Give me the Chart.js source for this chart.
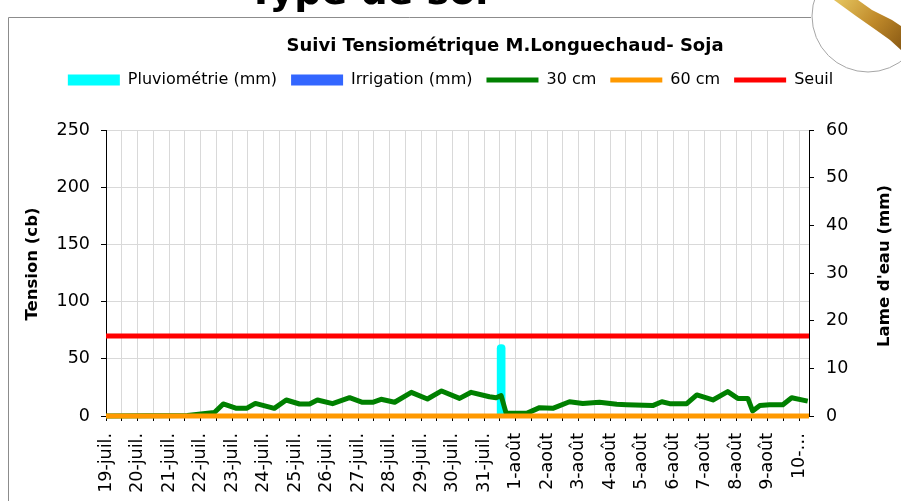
<!DOCTYPE html>
<html>
<head>
<meta charset="utf-8">
<script src="https://cdn.jsdelivr.net/npm/chart.js@4.4.1/dist/chart.umd.min.js"></script>
<style>
    html, body { margin: 0; padding: 0; background: #fff; }
    #wrap { width: 901px; height: 501px; position: relative; }
</style>
</head>
<body>
<div id="wrap"><canvas id="chart"></canvas></div>
<script>
// jours (index 0 = 19-juil.), une étiquette par jour
const dayLabels = ['19-juil.', '20-juil.', '21-juil.', '22-juil.', '23-juil.', '24-juil.', '25-juil.',
    '26-juil.', '27-juil.', '28-juil.', '29-juil.', '30-juil.', '31-juil.', '1-août', '2-août',
    '3-août', '4-août', '5-août', '6-août', '7-août', '8-août', '9-août', '10-…'];
const xMax = 22.31;

// sonde 30 cm (position en jours depuis le 19-juil., tension en cb)
const tension30Days = [0, 2.58, 3.44, 3.72, 4.14, 4.46, 4.74, 5.34, 5.72, 6.14, 6.46, 6.71, 7.19, 7.73,
    8.14, 8.46, 8.73, 9.16, 9.69, 10.2, 10.65, 11.22, 11.59, 12.17, 12.38, 12.54, 12.7, 13.35, 13.76,
    14.18, 14.71, 15.13, 15.66, 16.21, 16.52, 17.35, 17.64, 17.89, 18.43, 18.75, 19.26, 19.73, 20.05,
    20.37, 20.52, 20.75, 21.06, 21.48, 21.76, 22.27];
const tension30 = [0, 0.5, 3, 10.5, 6.7, 6.7, 11, 6.7, 14, 10.5, 10.5, 14, 10.8, 16,
    12, 12, 14.6, 12, 20.7, 14.9, 21.9, 15.4, 20.7, 16.8, 15.9, 17.8, 2.3, 2.3, 7.3,
    6.7, 12.5, 11, 12, 10.2, 9.8, 9.1, 12.5, 10.8, 10.8, 18.4, 14, 21.3, 15.4,
    15.4, 4.4, 9.1, 9.8, 9.8, 15.9, 13];

// sonde 60 cm
const tension60Days = [0, 22.31];
const tension60 = [0, 0];

// seuil
const seuilDays = [0, 22.31];
const seuil = [70, 70];

// pluie et irrigation (mm)
const pluieDays = [12.54];
const pluie = [15];
const irrigationDays = [];
const irrigation = [];

const leftTicks = { min: 0, max: 250, step: 50 };
const rightTicks = { min: 0, max: 60, step: 10 };

function points(xs, ys) {
    return xs.map(function (x, i) { return { x: x, y: ys[i] }; });
}

Chart.defaults.font.family = "'DejaVu Sans', sans-serif";
Chart.defaults.color = '#000';

const legendSpace = {
    id: 'legendSpace',
    beforeInit: function (chart) {
        const fit = chart.legend.fit;
        chart.legend.fit = function () {
            fit.bind(chart.legend)();
            this.height += 32;
        };
    }
};

const decor = {
    id: 'decor',
    beforeDraw: function (chart) {
        const ctx = chart.ctx;
        ctx.save();
        // cadre
        ctx.strokeStyle = '#8c8c8c';
        ctx.lineWidth = 1;
        ctx.beginPath();
        ctx.moveTo(8.5, 501);
        ctx.lineTo(8.5, 17.5);
        ctx.lineTo(811, 17.5);
        ctx.stroke();
        // en-tête coupé
        ctx.fillStyle = '#000';
        ctx.font = "bold 38px 'DejaVu Sans'";
        ctx.textBaseline = 'alphabetic';
        ctx.fillText('Type de sol', 248, 4);
        // logo
        ctx.fillStyle = '#fff';
        ctx.beginPath();
        ctx.arc(868, 16, 56, 0, Math.PI * 2);
        ctx.fill();
        ctx.strokeStyle = '#a6a6a6';
        ctx.stroke();
        const grad = ctx.createLinearGradient(840, 0, 901, 50);
        grad.addColorStop(0, '#e2c05a');
        grad.addColorStop(0.5, '#c08a2a');
        grad.addColorStop(1, '#8a5a14');
        ctx.fillStyle = grad;
        ctx.beginPath();
        ctx.moveTo(834, 0);
        ctx.lineTo(858, 0);
        ctx.lineTo(872, 10);
        ctx.lineTo(892, 20);
        ctx.lineTo(901, 26);
        ctx.lineTo(901, 50);
        ctx.lineTo(890, 40);
        ctx.lineTo(876, 30);
        ctx.lineTo(856, 16);
        ctx.closePath();
        ctx.fill();
        // titre
        ctx.fillStyle = '#000';
        ctx.font = "bold 18px 'DejaVu Sans'";
        ctx.textAlign = 'center';
        ctx.textBaseline = 'middle';
        ctx.fillText('Suivi Tensiométrique M.Longuechaud- Soja', 505, 46);
        // titres des axes
        ctx.font = "bold 16.5px 'DejaVu Sans'";
        ctx.translate(33, 264);
        ctx.rotate(-Math.PI / 2);
        ctx.fillText('Tension (cb)', 0, 0);
        ctx.setTransform(1, 0, 0, 1, 0, 0);
        ctx.translate(885, 266);
        ctx.rotate(-Math.PI / 2);
        ctx.fillText("Lame d'eau (mm)", 0, 0);
        ctx.restore();
    }
};

const ctx = document.getElementById('chart').getContext('2d');
const chart = new Chart(ctx, {
    type: 'line',
    data: {
        datasets: [{
            type: 'bar',
            label: 'Pluviométrie (mm)',
            data: points(pluieDays, pluie),
            yAxisID: 'y2',
            backgroundColor: '#00ffff',
            barThickness: 8,
            grouped: false,
            borderRadius: { topLeft: 4, topRight: 4 },
            borderSkipped: 'bottom',
            order: 3
        }, {
            type: 'bar',
            label: 'Irrigation (mm)',
            data: points(irrigationDays, irrigation),
            yAxisID: 'y2',
            backgroundColor: '#3366ff',
            barThickness: 8,
            grouped: false,
            order: 4
        }, {
            label: '30 cm',
            data: points(tension30Days, tension30),
            yAxisID: 'y',
            borderColor: '#008000',
            borderWidth: 5,
            borderJoinStyle: 'round',
            pointRadius: 0,
            tension: 0,
            clip: 6,
            order: 2
        }, {
            label: '60 cm',
            data: points(tension60Days, tension60),
            yAxisID: 'y',
            borderColor: '#ff9900',
            borderWidth: 5,
            pointRadius: 0,
            clip: 6,
            order: 1
        }, {
            label: 'Seuil',
            data: points(seuilDays, seuil),
            yAxisID: 'y',
            borderColor: '#ff0000',
            borderWidth: 5,
            pointRadius: 0,
            order: 0
        }]
    },
    options: {
        responsive: true,
        maintainAspectRatio: false,
        animation: false,
        layout: {
            padding: { top: 58, left: 0, right: 0, bottom: 0 }
        },
        scales: {
            x: {
                type: 'linear',
                min: 0,
                max: xMax,
                offset: false,
                afterBuildTicks: function (scale) {
                    const ticks = [];
                    for (let i = 0; i < dayLabels.length; i++) {
                        ticks.push({ value: i });
                        if (i + 0.5 < xMax) {
                            ticks.push({ value: i + 0.5 });
                        }
                    }
                    scale.ticks = ticks;
                },
                ticks: {
                    autoSkip: false,
                    minRotation: 90,
                    maxRotation: 90,
                    padding: 12,
                    font: { size: 17.5 },
                    callback: function (value) {
                        return Number.isInteger(value) ? dayLabels[value] : '';
                    }
                },
                grid: { offset: false, color: '#d9d9d9', tickColor: '#000', tickLength: 5 },
                border: { color: '#000' },
                afterFit: function (scale) { scale.height = 85; }
            },
            y: {
                position: 'left',
                min: leftTicks.min,
                max: leftTicks.max,
                ticks: { stepSize: leftTicks.step, padding: 11, font: { size: 17.5 } },
                grid: { color: '#d9d9d9', tickColor: '#000', tickLength: 5 },
                border: { color: '#000' },
                afterFit: function (scale) { scale.width = 106; }
            },
            y2: {
                position: 'right',
                min: rightTicks.min,
                max: rightTicks.max,
                ticks: { stepSize: rightTicks.step, padding: 12, font: { size: 17.5 } },
                grid: { drawOnChartArea: false, tickColor: '#000', tickLength: 5 },
                border: { color: '#000' },
                afterFit: function (scale) { scale.width = 92; }
            }
        },
        plugins: {
            title: { display: false },
            tooltip: { enabled: false },
            legend: {
                position: 'top',
                labels: {
                    usePointStyle: true,
                    pointStyleWidth: 52,
                    boxHeight: 11,
                    padding: 14,
                    font: { size: 16 },
                    generateLabels: function (chart) {
                        return chart.data.datasets.map(function (ds, i) {
                            const isBar = ds.type === 'bar';
                            return {
                                text: ds.label,
                                fillStyle: isBar ? ds.backgroundColor : ds.borderColor,
                                strokeStyle: isBar ? ds.backgroundColor : ds.borderColor,
                                lineWidth: isBar ? 0 : 5,
                                pointStyle: isBar ? 'rect' : 'line',
                                hidden: false,
                                datasetIndex: i
                            };
                        });
                    }
                }
            }
        }
    },
    plugins: [legendSpace, decor]
});
</script>
</body>
</html>
